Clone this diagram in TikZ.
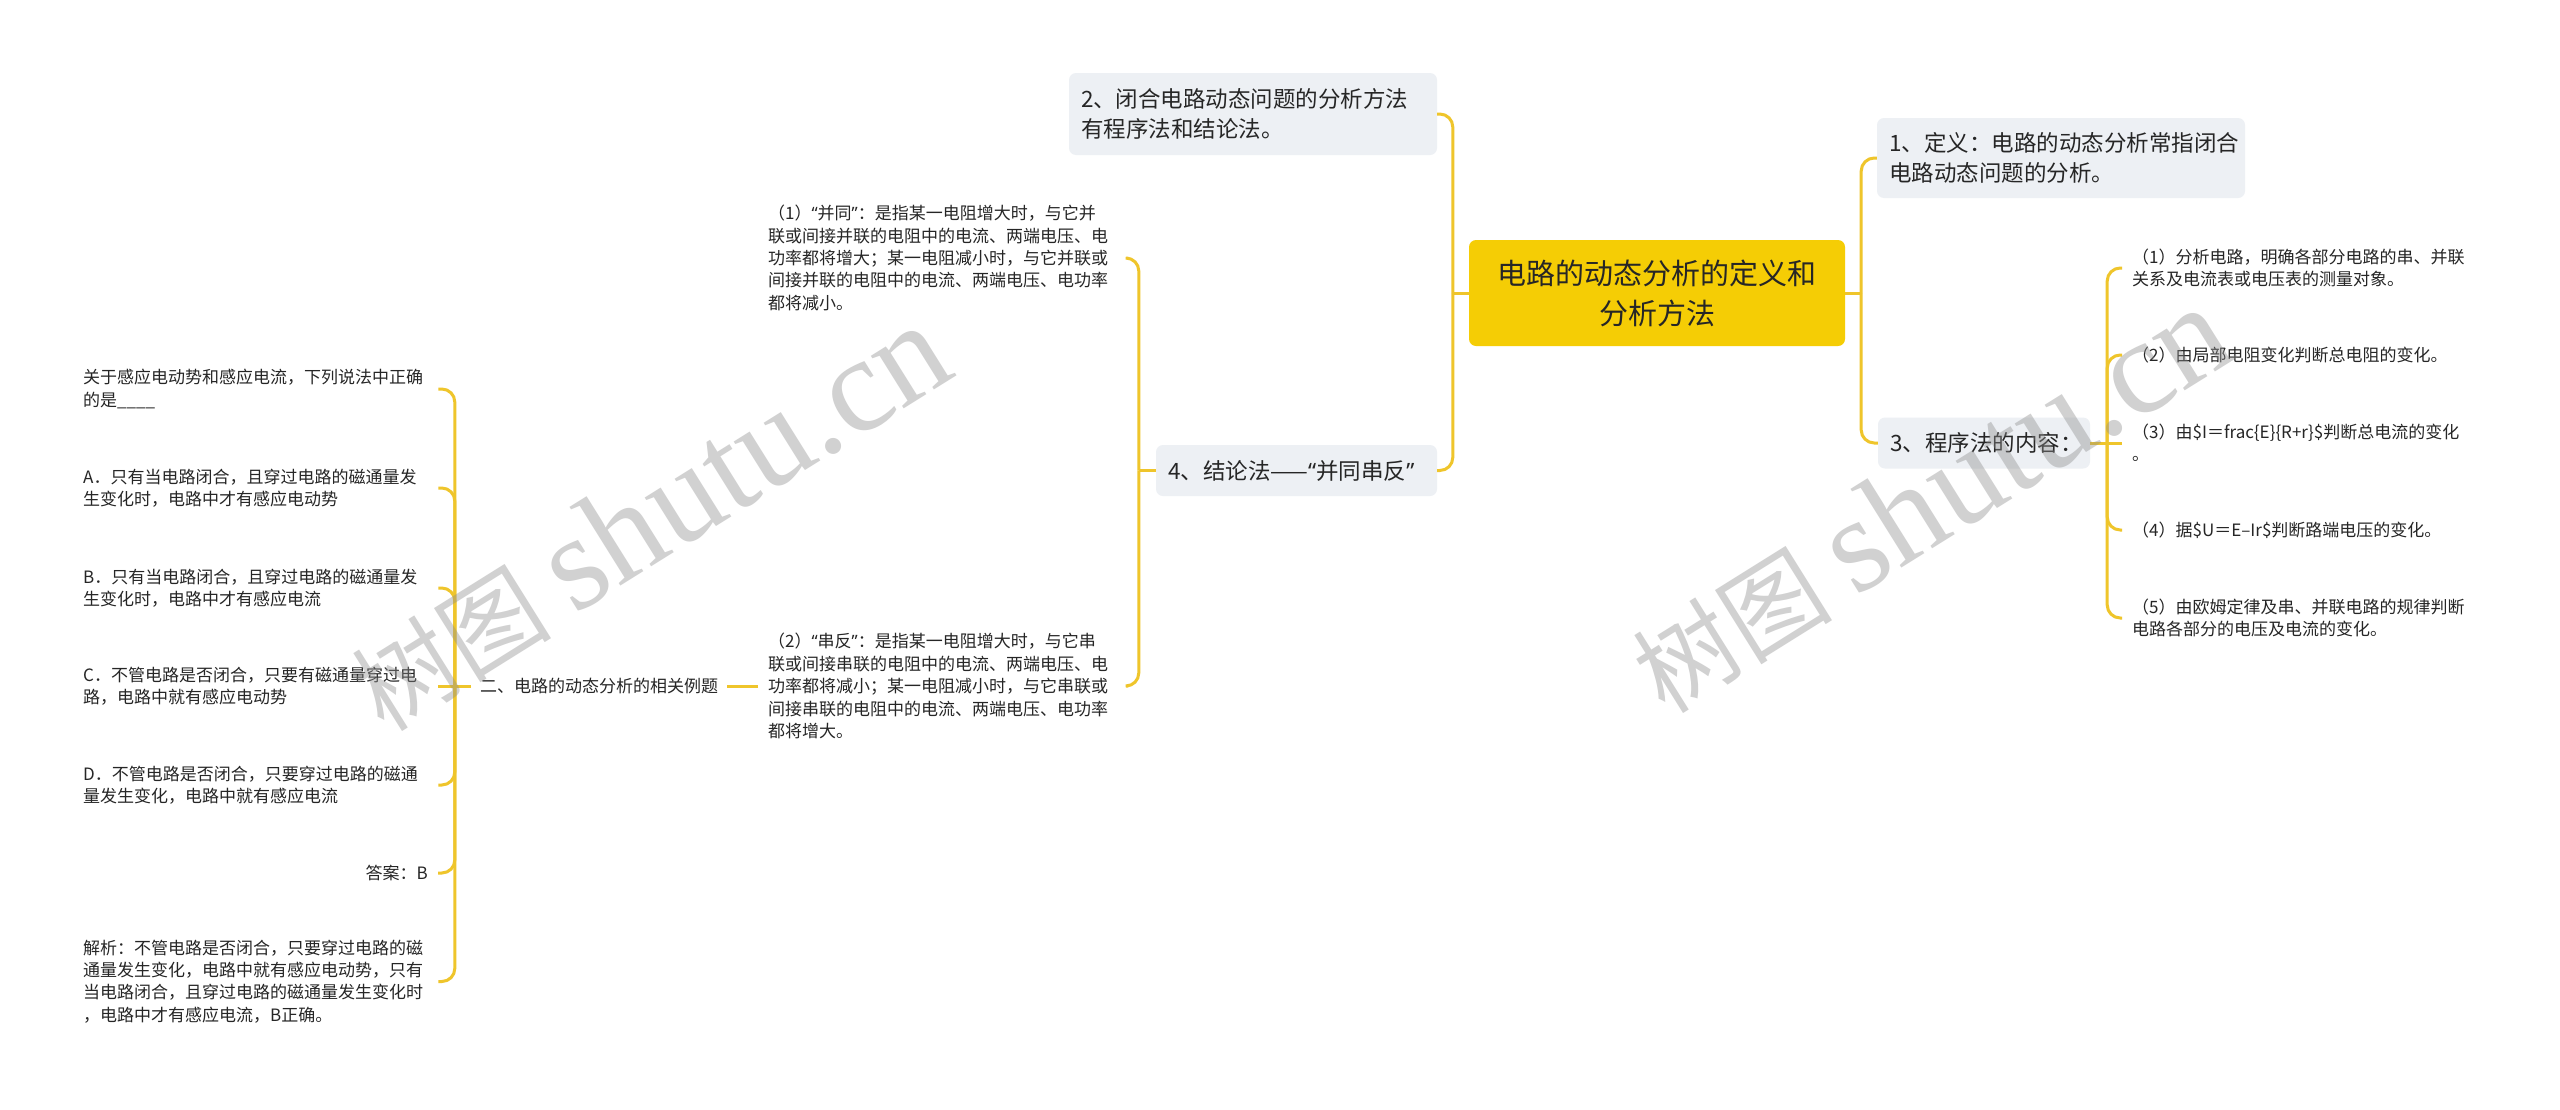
\documentclass[tikz,border=0pt]{standalone}
\usepackage{fontspec}
\setmainfont{Noto Sans CJK SC}
\newfontfamily\wmcjk{Noto Sans CJK SC}
\newfontfamily\wmserif{Liberation Serif}
\newfontfamily\quotefont{Noto Sans}
\newcommand\qopen{{\quotefont “}}
\newcommand\qclose{{\quotefont ”}}
\usetikzlibrary{calc}
\definecolor{rootfill}{HTML}{F5CD05}
\definecolor{boxfill}{HTML}{EDF0F4}
\definecolor{linec}{HTML}{EFC52B}
\definecolor{txt}{HTML}{262626}
\begin{document}
\begin{tikzpicture}[x=1pt,y=-1pt,
  conn/.style={draw=linec,line width=3pt,rounded corners=13pt},
  rootbox/.style={fill=rootfill,rounded corners=7pt,minimum width=376pt,minimum height=106pt,align=center,font=\fontsize{29}{40}\selectfont,text=txt,inner sep=0pt},
  lvbox/.style={fill=boxfill,rounded corners=7pt,font=\fontsize{22.5}{29.5}\selectfont,text=txt,inner xsep=12pt,inner ysep=0pt,align=left},
  leaf/.style={font=\fontsize{17}{22.4}\selectfont,text=txt,align=left,inner xsep=10pt,inner ysep=2pt},
  wm/.style={text=black!45,text opacity=0.4,inner sep=0pt,font=\fontsize{100}{100}\selectfont},
]
\useasboundingbox (0,0) rectangle (2560,1109);
\fill[white] (0,0) rectangle (2560,1109);

% main nodes
\node[rootbox] (root) at (1657,293) {电路的动态分析的定义和\\分析方法};
\node[lvbox,text width=344pt,minimum height=82pt] (b2) at (1253,114) {2、闭合电路动态问题的分析方法\\有程序法和结论法。};
\node[lvbox,text width=344pt,minimum height=80pt] (b1) at (2061,158) {1、定义：电路的动态分析常指闭合\\电路动态问题的分析。};
\node[lvbox,text width=188pt,minimum height=51pt] (b3) at (1984,443) {3、程序法的内容：};
\node[lvbox,text width=257pt,minimum height=51pt] (b4) at (1296.5,470.5) {4、结论法——\qopen 并同串反\qclose};

% right leaves
\node[leaf,anchor=west] (r1) at (2122,268) {（1）分析电路，明确各部分电路的串、并联\\关系及电流表或电压表的测量对象。};
\node[leaf,anchor=west] (r2) at (2122,355) {（2）由局部电阻变化判断总电阻的变化。};
\node[leaf,anchor=west] (r3) at (2122,443) {（3）由\$I＝frac\{E\}\{R+r\}\$判断总电流的变化\\。};
\node[leaf,anchor=west] (r4) at (2122,530) {（4）据\$U＝E–Ir\$判断路端电压的变化。};
\node[leaf,anchor=west] (r5) at (2122,618) {（5）由欧姆定律及串、并联电路的规律判断\\电路各部分的电压及电流的变化。};

% conclusion children
\node[leaf,anchor=west,text width=350pt] (bing) at (758,258) {（1）\qopen 并同\qclose：是指某一电阻增大时，与它并\\联或间接并联的电阻中的电流、两端电压、电\\功率都将增大；某一电阻减小时，与它并联或\\间接并联的电阻中的电流、两端电压、电功率\\都将减小。};
\node[leaf,anchor=west,text width=350pt] (chuan) at (758,686) {（2）\qopen 串反\qclose：是指某一电阻增大时，与它串\\联或间接串联的电阻中的电流、两端电压、电\\功率都将减小；某一电阻减小时，与它串联或\\间接串联的电阻中的电流、两端电压、电功率\\都将增大。};
\node[leaf,inner xsep=9pt] (er) at (599,686) {二、电路的动态分析的相关例题};

% example children
\node[leaf,anchor=west,text width=345pt] (q) at (73,389) {关于感应电动势和感应电流，下列说法中正确\\的是\_\_\_\_};
\node[leaf,anchor=west,text width=345pt] (qa) at (73,488) {A．只有当电路闭合，且穿过电路的磁通量发\\生变化时，电路中才有感应电动势};
\node[leaf,anchor=west,text width=345pt] (qb) at (73,588) {B．只有当电路闭合，且穿过电路的磁通量发\\生变化时，电路中才有感应电流};
\node[leaf,anchor=west,text width=345pt] (qc) at (73,686) {C．不管电路是否闭合，只要有磁通量穿过电\\路，电路中就有感应电动势};
\node[leaf,anchor=west,text width=345pt] (qd) at (73,785) {D．不管电路是否闭合，只要穿过电路的磁通\\量发生变化，电路中就有感应电流};
\node[leaf,anchor=east] (ans) at (438,873) {答案：B};
\node[leaf,anchor=west,text width=345pt] (jx) at (73,981.5) {解析：不管电路是否闭合，只要穿过电路的磁\\通量发生变化，电路中就有感应电动势，只有\\当电路闭合，且穿过电路的磁通量发生变化时\\，电路中才有感应电流，B正确。};

% junctions
\coordinate (jL) at ($(root.west)+(-16,0)$);
\coordinate (jR) at ($(root.east)+(16,0)$);
\coordinate (j3) at ($(b3.east)+(17,0)$);
\coordinate (j4) at ($(b4.west)+(-17,0)$);
\coordinate (jE) at ($(er.west)+(-16,0)$);

% connectors
\draw[conn] (root.west) -- (jL);
\draw[conn] (jL) |- (b2.east);
\draw[conn] (jL) |- (b4.east);
\draw[conn] (root.east) -- (jR);
\draw[conn] (jR) |- (b1.west);
\draw[conn] (jR) |- (b3.west);

\draw[conn] (b3.east) -- (j3);
\draw[conn] (j3) |- (r1.west);
\draw[conn] (j3) |- (r2.west);
\draw[conn] (j3) -- (r3.west);
\draw[conn] (j3) |- (r4.west);
\draw[conn] (j3) |- (r5.west);

\draw[conn] (b4.west) -- (j4);
\draw[conn] (j4) |- (bing.east);
\draw[conn] (j4) |- (chuan.east);

\draw[conn] (chuan.west) -- (er.east);

\draw[conn] (er.west) -- (jE);
\draw[conn] (jE) |- (q.east);
\draw[conn] (jE) |- (qa.east);
\draw[conn] (jE) |- (qb.east);
\draw[conn] (jE) -- (qc.east);
\draw[conn] (jE) |- (qd.east);
\draw[conn] (jE) |- (ans.east);
\draw[conn] (jE) |- (jx.east);

% watermarks
\node[wm,rotate=32] (wm1) at (649,518) {{\wmcjk 树图}\hspace{24pt}{\wmserif\fontsize{135}{135}\selectfont shutu.cn}};
\node[wm,rotate=32] (wm2) at (1930,500) {{\wmcjk 树图}\hspace{24pt}{\wmserif\fontsize{135}{135}\selectfont shutu.cn}};
\end{tikzpicture}
\end{document}
